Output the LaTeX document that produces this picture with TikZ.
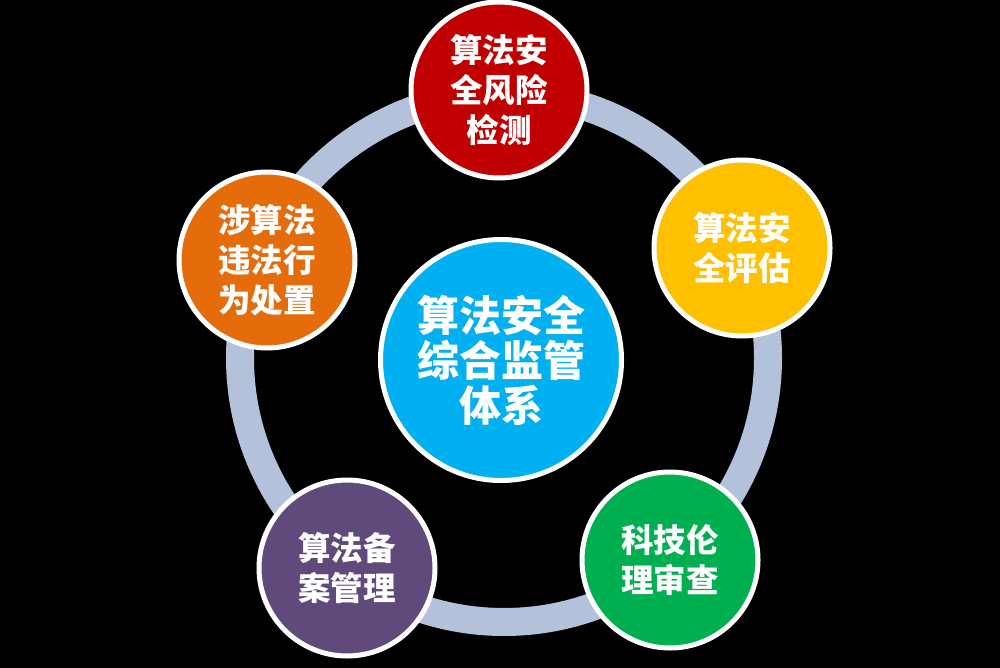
\documentclass[tikz,border=0pt]{standalone}
\usepackage{fontspec}
\newfontfamily\cjk{Noto Sans CJK SC}
\definecolor{ringc}{HTML}{B3C1DB}
\definecolor{cred}{HTML}{C00000}
\definecolor{cyellow}{HTML}{FFC000}
\definecolor{corange}{HTML}{E46C0A}
\definecolor{cpurple}{HTML}{604A7B}
\definecolor{cgreen}{HTML}{00B050}
\definecolor{cblue}{HTML}{00B0F0}
\tikzset{
  ball/.style={circle, draw=white, line width=5pt, minimum size=176pt, inner sep=0pt,
    text=white, align=center, font=\cjk\bfseries\fontsize{32.5}{40}\selectfont},
  hub/.style={circle, draw=white, line width=5pt, minimum size=241pt, inner sep=0pt,
    text=white, align=center, font=\cjk\bfseries\fontsize{42}{45}\selectfont, fill=cblue},
  ring/.style={draw=ringc, line width=28pt}
}
\begin{document}
\begin{tikzpicture}[x=1pt,y=-1pt]
\fill[black] (0,0) rectangle (1000,668);
\useasboundingbox (0,0) rectangle (1000,668);
\coordinate (rc) at (504,358);
\draw[ring] (rc) circle[radius=264];
\node[hub] (hubn) at (501,360) {算法安全\\综合监管\\体系};
\node[ball, fill=cred] (risk) at (499,90) {算法安\\全风险\\检测};
\node[ball, fill=cyellow] (eval) at (742,248) {算法安\\全评估};
\node[ball, fill=cgreen] (ethic) at (670,560) {科技伦\\理审查};
\node[ball, fill=cpurple] (file) at (347,568) {算法备\\案管理};
\node[ball, fill=corange] (illegal) at (267,260) {涉算法\\违法行\\为处置};
\end{tikzpicture}
\end{document}
